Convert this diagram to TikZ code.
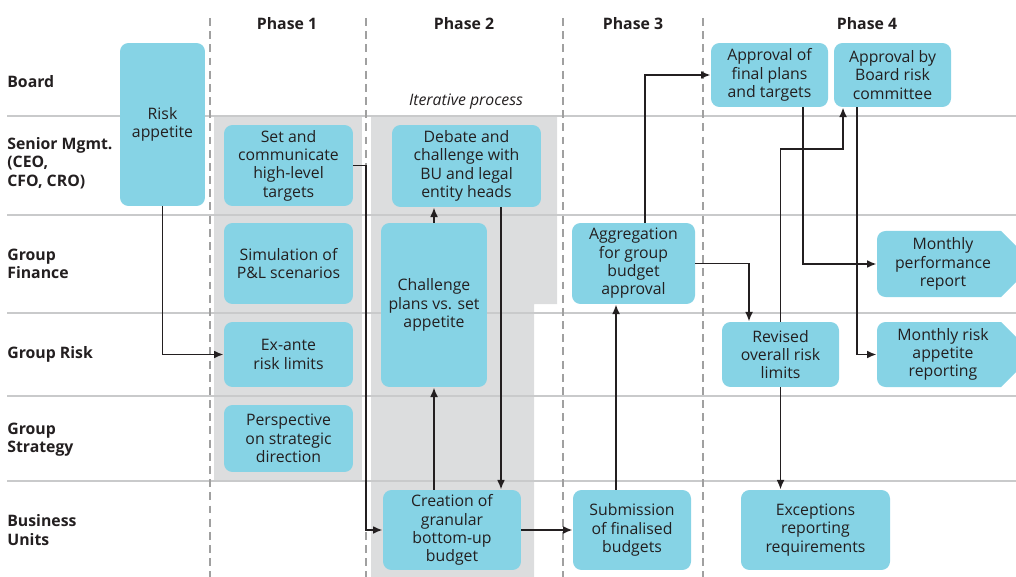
\documentclass[tikz,border=0pt]{standalone}
\usepackage{fontspec}
\setmainfont{Open Sans}
\usepackage{tikz}
\usetikzlibrary{arrows.meta}
\definecolor{boxblue}{HTML}{86D3E5}
\definecolor{lanegray}{HTML}{DCDDDE}
\definecolor{rulegray}{HTML}{C9CACB}
\definecolor{dashgray}{HTML}{A0A0A0}
\definecolor{ink}{HTML}{231F20}
\tikzset{
  stage/.style={fill=boxblue, rounded corners=0.17cm, align=center, inner sep=0pt, text=ink, font=\fontsize{9}{10.4}\selectfont},
  plain/.style={align=center, inner sep=0pt, text=ink, font=\fontsize{9}{10.4}\selectfont},
  lane/.style={anchor=west, align=left, inner sep=0pt, text=ink, font=\bfseries\fontsize{9}{10.4}\selectfont},
  phase/.style={text=ink, font=\bfseries\fontsize{9}{10.4}\selectfont},
  flow/.style={->, line width=1.1pt, draw=ink},
}

\begin{document}
\begin{tikzpicture}[x=0.02cm, y=-0.02cm, >={Latex[length=5.5pt,width=4.5pt]}]
        \useasboundingbox (0,0) rectangle (1016,577);
        \clip (0,0) rectangle (1016,577);
        % shaded areas
        \fill[lanegray] (214,116) rectangle (362,481);
        \fill[lanegray] (371,116) -- (557,116) -- (557,304) -- (534,304) -- (534,577) -- (371,577) -- cycle;
        % lanes and phases
        \foreach \y in {116,215,313,396,481}
            \draw[rulegray, line width=0.8pt] (7,\y) -- (1016,\y);
        \foreach \x in {210,366,563,703}
            \draw[dashgray, line width=0.8pt, dash pattern=on 4.5pt off 3pt] (\x,18) -- (\x,577);
        \node[phase] (p1) at (287,24) {Phase 1};
        \node[phase] (p2) at (464,24) {Phase 2};
        \node[phase] (p3) at (633,24) {Phase 3};
        \node[phase] (p4) at (867,24) {Phase 4};
        \node[lane] (board) at (7,82) {Board};
        \node[lane] (senior) at (7,163) {Senior Mgmt.\\(CEO,\\CFO, CRO)};
        \node[lane] (finance) at (7,264) {Group\\Finance};
        \node[lane] (grisk) at (7,354) {Group Risk};
        \node[lane] (strategy) at (7,440) {Group\\Strategy};
        \node[lane] (bu) at (7,530) {Business\\Units};
        \node[plain, font=\itshape\fontsize{9}{10.4}\selectfont] (iter) at (466,102) {Iterative process};
        % steps
        \node[stage, minimum width=1.70cm, minimum height=3.26cm] (risk) at (162.5,124.5) {Risk\\appetite};
        \node[stage, minimum width=2.58cm, minimum height=1.62cm] (settgt) at (288.5,165.5) {Set and\\communicate\\high-level\\targets};
        \node[stage, minimum width=2.58cm, minimum height=1.62cm] (simul) at (288.5,263.5) {Simulation of\\P\&L scenarios};
        \node[stage, minimum width=2.58cm, minimum height=1.30cm] (exante) at (288.5,354.5) {Ex-ante\\risk limits};
        \node[stage, minimum width=2.58cm, minimum height=1.34cm] (persp) at (288.5,438.5) {Perspective\\on strategic\\direction};
        \node[stage, minimum width=2.98cm, minimum height=1.64cm] (debate) at (466.5,166) {Debate and\\challenge with\\BU and legal\\entity heads};
        \node[stage, minimum width=2.12cm, minimum height=3.28cm] (chall) at (434,305) {Challenge\\plans vs. set\\appetite};
        \node[stage, minimum width=2.76cm, minimum height=1.60cm] (create) at (452,530) {Creation of\\granular\\bottom-up\\budget};
        \node[stage, minimum width=2.46cm, minimum height=1.62cm] (aggr) at (633.5,263.5) {Aggregation\\for group\\budget\\approval};
        \node[stage, minimum width=2.36cm, minimum height=1.60cm] (submit) at (632,530) {Submission\\of finalised\\budgets};
        \node[stage, minimum width=2.34cm, minimum height=1.28cm] (apprfin) at (769.5,75) {Approval of\\final plans\\and targets};
        \node[stage, minimum width=2.34cm, minimum height=1.28cm] (apprboard) at (892.5,75) {Approval by\\Board risk\\committee};
        \node[stage, minimum width=2.34cm, minimum height=1.30cm] (revised) at (780.5,354.5) {Revised\\overall risk\\limits};
        \node[stage, minimum width=2.98cm, minimum height=1.60cm] (except) at (815.5,530) {Exceptions\\reporting\\requirements};
        % reports
        \fill[boxblue] (1034,264) -- (1001,297) [rounded corners=0.17cm] -- (877,297) -- (877,231) [sharp corners] -- (1001,231) -- cycle;
        \fill[boxblue] (1034,354.5) -- (1001,387) [rounded corners=0.17cm] -- (877,387) -- (877,322) [sharp corners] -- (1001,322) -- cycle;
        \node[plain, minimum width=2.64cm, minimum height=1.32cm] (perf) at (943,264) {Monthly\\performance\\report};
        \node[plain, minimum width=2.64cm, minimum height=1.30cm] (riskrep) at (943,354.5) {Monthly risk\\appetite\\reporting};
        % flows
        \draw[flow] (risk.south) |- (exante.west);
        \draw[flow] (settgt.east) -- ++(13,0) |- (create.west);
        \draw[flow] (chall.north) -- (chall.north |- debate.south);
        \draw[flow] ([xshift=0.69cm]debate.south) -- ([xshift=0.69cm]debate.south |- create.north);
        \draw[flow] (create.north -| chall.south) -- (chall.south);
        \draw[flow] (create.east) -- (submit.west);
        \draw[flow] ([xshift=-0.32cm]submit.north) -- ([xshift=-0.32cm]submit.north |- aggr.south);
        \draw[flow] ([xshift=0.23cm]aggr.north) |- (apprfin.west);
        \draw[flow] (aggr.east) -| ([xshift=-0.63cm]revised.north);
        \draw[flow] ([xshift=0.67cm]apprfin.south) |- (perf.west);
        \draw[flow] ([xshift=-0.71cm]apprboard.south) |- (riskrep.west);
        \draw[flow] (revised.north) -- ++(0,-173) -| ([xshift=-0.99cm]apprboard.south);
        \draw[flow] (revised.south) -- (revised.south |- except.north);
    \end{tikzpicture}
\end{document}
